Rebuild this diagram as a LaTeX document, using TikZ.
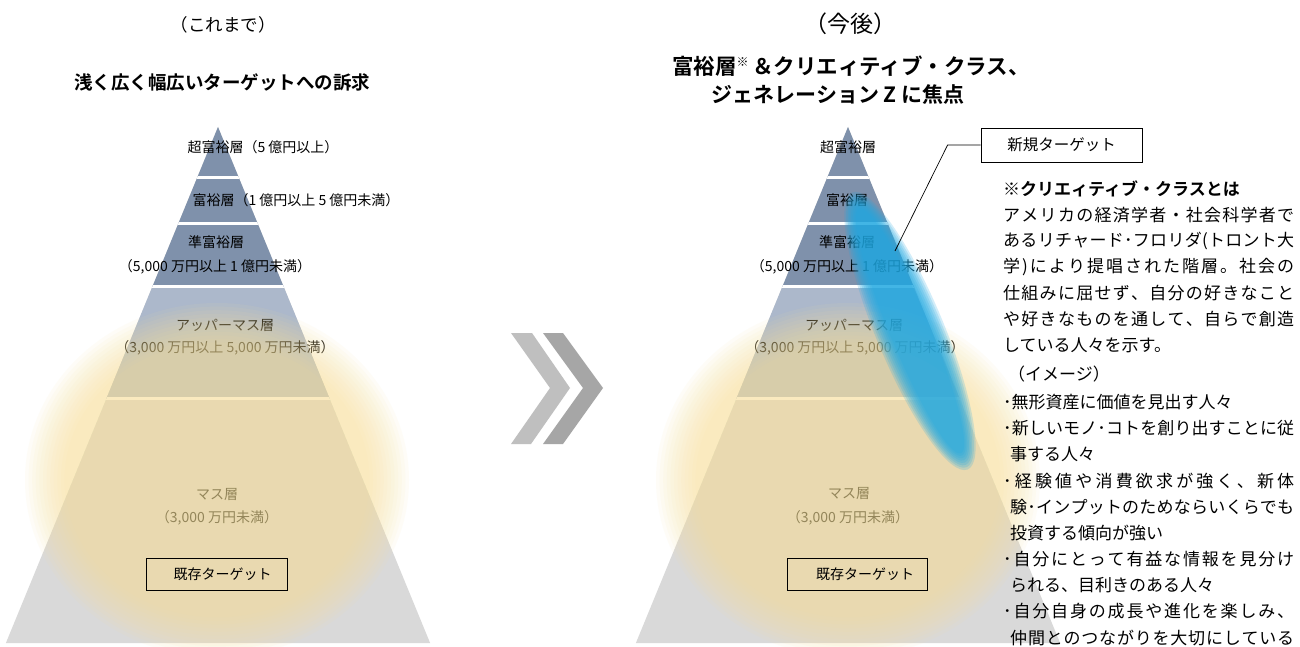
\documentclass[tikz,border=0pt]{standalone}
\usepackage{fontspec}
\setmainfont{Noto Sans CJK JP}[BoldFont={Noto Sans CJK JP Bold}]
\definecolor{tierA}{RGB}{127,145,171}
\definecolor{tierB}{RGB}{172,184,203}
\definecolor{tierC}{RGB}{217,217,217}
\definecolor{glowc}{RGB}{250,226,155}
\definecolor{bluec}{RGB}{30,168,226}
\definecolor{chevL}{RGB}{191,191,191}
\definecolor{chevD}{RGB}{166,166,166}
\newcommand{\fs}[1]{\fontsize{#1}{#1}\selectfont}
\makeatletter
\def\sprd#1{#1\sprd@next}
\def\sprd@next#1{\ifx\relax#1\else\hfil#1\expandafter\sprd@next\fi}
\makeatother
\newcommand{\jl}[2]{\makebox[#1pt][s]{\sprd#2\relax}}
\newcommand{\drawpyr}[1]{%
  \fill[tierC] (#1,127) -- ({#1+212.1},643) -- ({#1-212.1},643) -- cycle;
  \begin{scope}
    \clip (#1,127) -- ({#1+212.1},643) -- ({#1-212.1},643) -- cycle;
    \fill[tierA] ({#1-230},100) rectangle ({#1+230},286.5);
    \fill[tierB] ({#1-230},286.5) rectangle ({#1+230},398.5);
    \foreach \yy in {177.5,223.5,286.5,398.5}{\draw[white,line width=2.6pt] ({#1-230},\yy) -- ({#1+230},\yy);}
  \end{scope}}
\newcommand{\glowat}[2]{\foreach \k in {0,...,11}{\fill[glowc, fill opacity=0.075] (#1,#2) ellipse [x radius={192-3.6*\k}, y radius={177-3.6*\k}];}}
\begin{document}
\begin{tikzpicture}[x=1pt,y=-1pt,
  lbl/.style={font=\fs{14}, inner sep=0pt},
  tbox/.style={draw=black, line width=0.8pt, minimum height=32pt, inner sep=0pt, font=\fs{14}},
  nl/.style={anchor=west, inner sep=0pt, font=\fs{17}},
  ]
\useasboundingbox (0,0) rectangle (1300,647);
\clip (0,0) rectangle (1300,647);
\fill[white] (0,0) rectangle (1300,647);

% pyramids
\drawpyr{218}
\drawpyr{848}

% chevrons
\fill[chevL] (511,333) -- (532,333) -- (570,388) -- (531,444) -- (511,444) -- (550,388) -- cycle;
\fill[chevD] (543,333) -- (563,333) -- (603,388) -- (563,444) -- (543,444) -- (583,388) -- cycle;

% left labels
\node[lbl] (l1) at (263,147) {超富裕層（5 億円以上）};
\node[lbl] (l2) at (296,200) {富裕層（1 億円以上 5 億円未満）};
\node[lbl] (l3) at (216,242) {準富裕層};
\node[lbl] (l4) at (215,267) {（5,000 万円以上 1 億円未満）};
\node[lbl] (l5) at (225,325) {アッパーマス層};
\node[lbl] (l6) at (225,348) {（3,000 万円以上 5,000 万円未満）};
\node[lbl] (l7) at (217,495) {マス層};
\node[lbl] (l8) at (217,518) {（3,000 万円未満）};

% right labels
\node[lbl] (r1) at (848,147) {超富裕層};
\node[lbl] (r2) at (847,200) {富裕層};
\node[lbl] (r3) at (847,242) {準富裕層};
\node[lbl] (r4) at (847,267) {（5,000 万円以上 1 億円未満）};
\node[lbl] (r5) at (854,325) {アッパーマス層};
\node[lbl] (r6) at (855,348) {（3,000 万円以上 5,000 万円未満）};
\node[lbl] (r7) at (849,494) {マス層};
\node[lbl] (r8) at (848,518) {（3,000 万円未満）};

% glows
\glowat{217}{480}
\glowat{848}{480}

% existing target boxes
\node[tbox, minimum width=141pt] (oldL) at (216.5,574) {\hspace{12pt}既存ターゲット};
\node[tbox, minimum width=140pt] (oldR) at (857,574) {\hspace{16pt}既存ターゲット};

% blue ellipse (new target)
\begin{scope}[shift={(910,331)}, rotate=-67.4]
  \foreach \k in {0,...,7}{\fill[bluec, fill opacity=0.2] (0,0) ellipse [x radius={150-2.5*\k}, y radius={34-2*\k}];}
\end{scope}

% new target box and connector
\node[tbox, minimum width=161pt, minimum height=34pt, font=\fs{15.5}] (newt) at (1061.5,145) {新規ターゲット};
\coordinate (ptr) at (895,251);
\draw[black, line width=0.7pt] (newt.west) -- ++(-33,0) -- (ptr);

% headings
\node[inner sep=0pt, font=\fs{17.5}] (hL) at (223,25) {（これまで）};
\node[inner sep=0pt, font=\bfseries\fs{18.5}] (hL2) at (222,82) {浅く広く幅広いターゲットへの訴求};
\node[inner sep=0pt, font=\fs{23}] (hR) at (850,24) {（今後）};
\node[inner sep=0pt, font=\bfseries\fs{21.5}] (hR2) at (851,66) {富裕層\raisebox{8pt}{\fs{12}※}\,＆クリエィティブ・クラス、};
\node[inner sep=0pt, font=\bfseries\fs{21}] (hR3) at (838,95) {ジェネレーション Z に焦点};

% note text
\node[nl, font=\bfseries\fs{17}] (n1) at (1003,189) {※クリエィティブ・クラスとは};
\node[nl] (n2) at (1003,215) {\jl{291}{アメリカの経済学者・社会科学者で}};
\node[nl] (n3) at (1003,241) {\jl{291}{あるリチャード･フロリダ(トロント大}};
\node[nl] (n4) at (1003,267) {\jl{291}{学)により提唱された階層。社会の}};
\node[nl] (n5) at (1003,293) {\jl{291}{仕組みに屈せず、自分の好きなこと}};
\node[nl] (n6) at (1003,319) {\jl{291}{や好きなものを通して、自らで創造}};
\node[nl] (n7) at (1003,345) {している人々を示す。};
\node[nl] (n8) at (1008,374) {（イメージ）};
\node[nl] (n9) at (1003,402) {･無形資産に価値を見出す人々};
\node[nl] (n10) at (1003,428) {\jl{291}{･新しいモノ･コトを創り出すことに従}};
\node[nl] (n11) at (1010,454) {事する人々};
\node[nl] (n12) at (1003,481) {\jl{291}{･経験値や消費欲求が強く、新体}};
\node[nl] (n13) at (1010,507) {\jl{284}{験･インプットのためならいくらでも}};
\node[nl] (n14) at (1010,533) {投資する傾向が強い};
\node[nl] (n15) at (1003,559) {\jl{291}{･自分にとって有益な情報を見分け}};
\node[nl] (n16) at (1010,585) {られる、目利きのある人々};
\node[nl] (n17) at (1003,611) {\jl{291}{･自分自身の成長や進化を楽しみ、}};
\node[nl] (n18) at (1010,638) {\jl{284}{仲間とのつながりを大切にしている}};
\end{tikzpicture}
\end{document}
